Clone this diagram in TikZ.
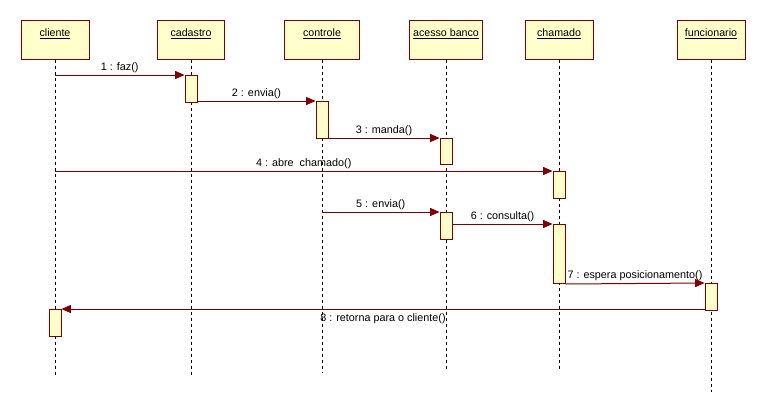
\documentclass[tikz,border=0pt]{standalone}
\usepackage{fontspec}
\setmainfont{Liberation Sans}
\usetikzlibrary{arrows.meta}
\definecolor{umlred}{RGB}{128,0,0}
\definecolor{umlfill}{RGB}{255,255,204}
\tikzset{
  obj/.style={draw=umlred, fill=umlfill, line width=0.75pt, minimum height=29.25pt, inner sep=0pt},
  objtext/.style={anchor=north, inner sep=0pt, font=\fontsize{8}{9.5}\selectfont, yshift=-6.5pt},
  act/.style={draw=umlred, fill=umlfill, line width=0.75pt, minimum width=9pt, inner sep=0pt, anchor=north},
  life/.style={draw=black, line width=0.6pt, dash pattern=on 2.25pt off 2.25pt},
  msg/.style={draw=umlred, line width=0.75pt, -{Triangle[length=7pt,width=6pt]}},
  lbl/.style={font=\fontsize{8.1}{9.5}\selectfont, inner sep=1.5pt, text=black}
}
\begin{document}
\begin{tikzpicture}[x=0.75pt,y=-0.75pt]
\useasboundingbox (0,0) rectangle (765,412);
% objects
\node[obj, minimum width=51pt] (cliente) at (55,39.5) {};
\node[obj, minimum width=50.25pt] (cadastro) at (191,39.5) {};
\node[obj, minimum width=56.25pt] (controle) at (322,39.5) {};
\node[obj, minimum width=54.75pt] (acesso) at (446,39.5) {};
\node[obj, minimum width=51pt] (chamado) at (559,39.5) {};
\node[obj, minimum width=51pt] (funcionario) at (711,39.5) {};
\node[objtext] (tcliente) at (cliente.north) {\underline{cliente}};
\node[objtext] (tcadastro) at (cadastro.north) {\underline{cadastro}};
\node[objtext] (tcontrole) at (controle.north) {\underline{controle}};
\node[objtext] (tacesso) at (acesso.north) {\underline{acesso banco}};
\node[objtext] (tchamado) at (chamado.north) {\underline{chamado}};
\node[objtext] (tfuncionario) at (funcionario.north) {\underline{funcionario}};
% lifeline ends
\coordinate (eCliente) at (55,375);
\coordinate (eCadastro) at (191,375);
\coordinate (eControle) at (322,373);
\coordinate (eAcesso) at (446,369);
\coordinate (eChamado) at (559,369);
\coordinate (eFuncionario) at (711,392);
\draw[life] (cliente.south) -- (eCliente);
\draw[life] (cadastro.south) -- (eCadastro);
\draw[life] (controle.south) -- (eControle);
\draw[life] (acesso.south) -- (eAcesso);
\draw[life] (chamado.south) -- (eChamado);
\draw[life] (funcionario.south) -- (eFuncionario);
% activations
\node[act, minimum height=20.25pt] (a1) at (191,75) {};
\node[act, minimum height=27.75pt] (a2) at (322,101) {};
\node[act, minimum height=19.5pt] (a3) at (446,138) {};
\node[act, minimum height=20.25pt] (a4) at (559,171) {};
\node[act, minimum height=20.25pt] (a5) at (446,212) {};
\node[act, minimum height=44.25pt] (a6) at (559,224) {};
\node[act, minimum height=20.25pt] (a7) at (711,283) {};
\node[act, minimum height=20.25pt] (a8) at (55,309) {};
% messages
\draw[msg] (cliente.south |- a1.north west) -- node[lbl, above] (m1) {1 : faz()} (a1.north west);
\draw[msg] (a1.east |- a2.north west) -- node[lbl, above] (m2) {2 : envia()} (a2.north west);
\draw[msg] (a2.east |- a3.north west) -- node[lbl, above] (m3) {3 : manda()} (a3.north west);
\draw[msg] (cliente.south |- a4.north west) -- node[lbl, above] (m4) {4 : abre\ \ chamado()} (a4.north west);
\draw[msg] (controle.south |- a5.north west) -- node[lbl, above] (m5) {5 : envia()} (a5.north west);
\draw[msg] (a5.east |- a6.north west) -- node[lbl, above] (m6) {6 : consulta()} (a6.north west);
\draw[msg] (a6.south east) -- node[lbl, above] (m7) {7 : espera posicionamento()} (a7.north west);
\draw[msg] (a7.west |- a8.north east) -- node[lbl, below, inner sep=3pt] (m8) {8 : retorna para o cliente()} (a8.north east);
\end{tikzpicture}
\end{document}
